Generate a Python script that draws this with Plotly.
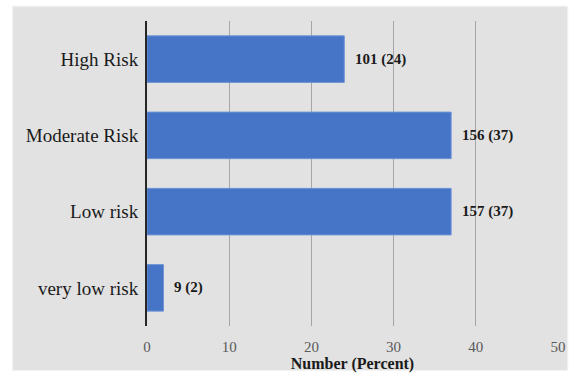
import plotly.graph_objects as go

# Risk categories (bottom to top as drawn on the category axis)
categories = ["very low risk", "Low risk", "Moderate Risk", "High Risk"]
counts = [9, 157, 156, 101]
percents = [2, 37, 37, 24]

labels = [f"<b>{n} ({p})</b>" for n, p in zip(counts, percents)]

fig = go.Figure(
    go.Bar(
        x=percents,
        y=categories,
        orientation="h",
        marker=dict(color="#4674C6", line=dict(color="#6d93d6", width=1)),
        hoverinfo="skip",
    )
)

# Value labels just past the end of each bar
for cat, pct, lab in zip(categories, percents, labels):
    fig.add_annotation(
        x=pct, y=cat, text=lab, showarrow=False,
        xanchor="left", xshift=9,
        font=dict(family="Liberation Serif", size=15, color="#1a1a1a"),
    )

# Grey card behind the chart
fig.add_shape(
    type="rect", xref="paper", yref="paper",
    x0=-137 / 419, x1=10 / 419 + 1, y0=-45 / 309, y1=1 + 15 / 309,
    fillcolor="#e2e2e2", line=dict(color="#f2f2f2", width=1), layer="below",
)

fig.update_layout(
    width=576,
    height=377,
    margin=dict(l=147, r=10, t=21, b=47),
    paper_bgcolor="white",
    plot_bgcolor="rgba(0,0,0,0)",
    bargap=0.39,
    showlegend=False,
    font=dict(family="Liberation Serif"),
    xaxis=dict(
        range=[0, 50],
        dtick=10,
        showgrid=True,
        gridcolor="#a6a6a6",
        gridwidth=1,
        zeroline=False,
        showline=False,
        ticks="",
        ticklabelstandoff=10,
        tickfont=dict(family="Liberation Serif", size=15, color="#595959"),
        title=dict(
            text="<b>Number (Percent)</b>",
            font=dict(family="Liberation Serif", size=16, color="#1a1a1a"),
            standoff=1,
        ),
    ),
    yaxis=dict(
        showgrid=False,
        zeroline=False,
        showline=True,
        linecolor="#262626",
        linewidth=2,
        ticks="",
        ticklabelstandoff=3,
        tickfont=dict(family="Liberation Serif", size=19, color="#1a1a1a"),
    ),
)

fig.write_html("out.html")
